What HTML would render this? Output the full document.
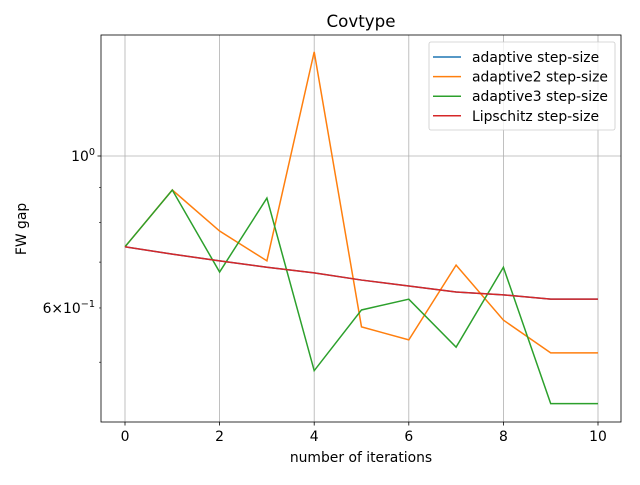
<!DOCTYPE html>
<html><head><meta charset="utf-8"><style>
body{margin:0;background:#fff;}
svg text{font-family:"DejaVu Sans","Liberation Sans",sans-serif;fill:#000;}
</style></head><body>
<svg width="640" height="480" viewBox="0 0 640 480">
<g id="plot"></g>
</svg>
<script>
const categories=[0,1,2,3,4,5,6,7,8,9,10];
const adaptive=[0.737,0.719,0.703,0.688,0.675,0.659,0.646,0.633,0.627,0.618,0.618];
const adaptive2=[0.737,0.892,0.777,0.703,1.419,0.563,0.539,0.693,0.576,0.516,0.516];
const adaptive3=[0.737,0.892,0.677,0.868,0.486,0.596,0.618,0.526,0.688,0.435,0.435];
const lipschitz=[0.737,0.719,0.703,0.688,0.675,0.659,0.646,0.633,0.627,0.618,0.618];
const xTicks=[0,2,4,6,8,10];
const seriesNames=["adaptive step-size","adaptive2 step-size","adaptive3 step-size","Lipschitz step-size"];
const L=101,R=621,T=35,B=422;
const X=v=>125+(v-0)*(598-125)/10;
const Y=v=>156-Math.log10(v)*685;
const NS="http://www.w3.org/2000/svg";
const g=document.getElementById('plot');
function mk(t,a,p){const e=document.createElementNS(NS,t);for(const k in a)e.setAttribute(k,a[k]);(p||g).appendChild(e);return e;}
xTicks.forEach(t=>{const l=mk('line',{x1:X(t),x2:X(t),y1:T,y2:B,stroke:'#b0b0b0','stroke-width':0.8});

});
const gy=mk('line',{x1:L,x2:R,y1:Y(1),y2:Y(1),stroke:'#b0b0b0','stroke-width':0.8});


const colors=['#1f77b4','#ff7f0e','#2ca02c','#d62728'];
[adaptive,adaptive2,adaptive3,lipschitz].forEach((s,i)=>{
 const p=mk('polyline',{points:s.map((v,j)=>X(categories[j])+','+Y(v)).join(' '),fill:'none',stroke:colors[i],'stroke-width':1.5});
 
 
});
const fr=mk('rect',{x:L,y:T,width:R-L,height:B-T,fill:'none',stroke:'#000','stroke-width':0.8});


xTicks.forEach(t=>{mk('line',{x1:X(t),x2:X(t),y1:B,y2:B+3.5,stroke:'#000','stroke-width':0.8});
 const tx=mk('text',{x:X(t),y:B+19,'text-anchor':'middle','font-size':13.9});tx.textContent=t;
 
 });
mk('line',{x1:L-3.5,x2:L,y1:Y(1),y2:Y(1),stroke:'#000','stroke-width':0.8});
[0.5,0.6,0.7,0.8,0.9].forEach(v=>mk('line',{x1:L-2,x2:L,y1:Y(v),y2:Y(v),stroke:'#000','stroke-width':0.6}));
const y1=mk('text',{x:L-6,y:Y(1)+5,'text-anchor':'end','font-size':13.9});y1.innerHTML='10<tspan dy="-6" font-size="9.7">0</tspan>';


const y2=mk('text',{x:L-6,y:Y(0.6)+5,'text-anchor':'end','font-size':13.9});y2.innerHTML='6×10<tspan dy="-6" font-size="9.7">−1</tspan>';


const ti=mk('text',{x:361,y:27,'text-anchor':'middle','font-size':16.7});ti.textContent='Covtype';

const xl=mk('text',{x:361,y:462,'text-anchor':'middle','font-size':13.9});xl.textContent='number of iterations';

const yl=mk('text',{x:0,y:0,'text-anchor':'middle','font-size':13.9,transform:'translate(26,229) rotate(-90)'});yl.textContent='FW gap';

const lg=mk('g',{});


mk('rect',{x:429,y:42,width:186,height:88,rx:2,fill:'#fff','fill-opacity':0.8,stroke:'#ccc','stroke-width':0.8},lg);
seriesNames.forEach((n,i)=>{const yy=57+i*19.6;
 mk('line',{x1:433,x2:461,y1:yy,y2:yy,stroke:colors[i],'stroke-width':1.5},lg);
 const t=mk('text',{x:472,y:yy+5,'font-size':13.9},lg);t.textContent=n;
 
 });
</script>
</body></html>
